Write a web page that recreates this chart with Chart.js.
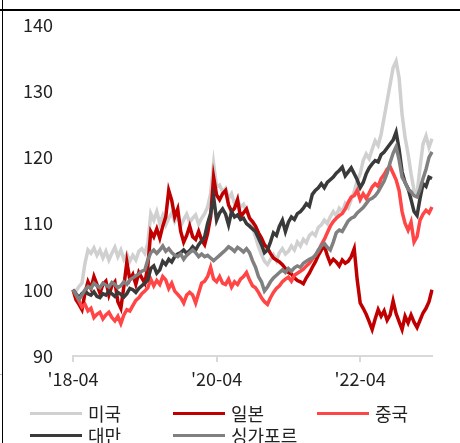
<!DOCTYPE html>
<html><head><meta charset="utf-8">
<script src="https://cdn.jsdelivr.net/npm/chart.js@4"></script>
<style>
html,body{margin:0;padding:0;background:#fff;}
#wrap{position:relative;width:460px;height:443px;overflow:hidden;font-family:'Noto Sans CJK KR','Noto Sans',sans-serif;}
#c{position:absolute;left:0;top:0;}
.frameTop{position:absolute;left:0;top:9px;width:460px;height:2px;background:#000;}
.frameLeft{position:absolute;left:2px;top:0;width:1px;height:443px;background:#000;}
.frameMark{position:absolute;left:0;top:374px;width:2px;height:1px;background:#bbb;}
.item{position:absolute;height:24px;display:flex;align-items:center;font-size:18px;color:#222;white-space:nowrap;}
.sw{width:52px;height:3px;margin-right:6px;}
</style></head>
<body>
<div id="wrap">
<canvas id="c" width="460" height="443"></canvas>
<div class="frameTop"></div><div class="frameLeft"></div><div class="frameMark"></div>
<div id="legend"></div>
</div>
<script>
// categories: semi-monthly dates from 2018-04 to 2023-04
const categories = [];
for (let k = 0; k <= 120; k++) {
  const m = Math.floor(k / 2);
  const yr = 2018 + Math.floor((3 + m) / 12);
  const mo = (3 + m) % 12 + 1;
  categories.push(yr + '-' + String(mo).padStart(2, '0') + '-' + (k % 2 ? '16' : '01'));
}
const tickDates = ['2018-04-01', '2020-04-01', '2022-04-01'];
const tickLabels = ["'18-04", "'20-04", "'22-04"];
const yTicks = [90, 100, 110, 120, 130, 140];
const seriesNames = ['미국', '일본', '중국', '대만', '싱가포르'];
const seriesColors = ['#d0d0d0', '#c00000', '#ff4545', '#3a3a3a', '#808080'];

const usa = [
100,99.8,100.5,101,104,106,105.5,106.3,105.2,106,
104.8,105.8,104.5,105.5,106.4,105,106,104.6,105.4,104.3,
105.2,104.5,105.8,106.2,105.5,107,111.5,110.5,111.8,110,
111.2,109.8,110.8,111.6,110.3,111.2,109.6,110.6,111.4,110.2,
110.8,111.3,109.9,110.8,111.5,112.5,114.5,119,115.5,115.8,
114.8,115.3,113.8,114.5,113,113.6,112.5,112.9,111.8,111,
109.5,108,106.5,105.3,104.3,103.8,104.6,105.3,104.4,105.6,
106.2,105.4,105.8,106.6,106,107.2,106.6,107.6,107.1,108.2,
108.6,108.2,109.4,109.8,110.5,110,111,111.8,111.2,112.3,
111.8,113,112.4,113.6,114.8,116.5,117.5,119.5,120.5,119.8,
121.2,122.5,121.8,123.5,126,128.5,131,133.5,134.5,132,
126.5,123,120.5,117.5,115,114.5,118.5,122,123.2,121.5,
122.8];
const japan = [
100,98.5,97.8,97,99.5,101.2,100.2,102,100.8,99.5,
100.8,101.3,99.2,100.6,101.2,98.2,97.2,100.5,104.2,101.5,
102.3,100.8,102.6,101.8,101,103.5,108.8,108,109.2,107.8,
109.6,111,115,113.5,111,112.2,108.8,107.2,108.2,109.6,
108,107.6,108.8,107.5,106.8,108.5,111,117,114.3,113.6,
114.5,115,112.8,111.8,112.3,113.6,111,111.6,112.2,110.8,
110.3,109.6,108.6,107.8,106.8,106.3,105.5,104.8,104.5,104.2,
103.8,103.2,102.6,102.4,101.8,101.4,101.2,100.9,101.8,102.5,
103.4,104.2,105.2,106,106.6,105.2,104,104.6,104.2,103.6,
104.5,104,104.3,105,106.2,101.5,98,97.2,96.3,95.2,
94,95.6,97,96,96.8,95.4,96.2,98.3,96.4,95.2,
94,96,95,96.2,95.1,94.3,95.4,96.5,97.2,98.2,
100];
const china = [
100,99.2,98.3,97.4,97.8,96.8,97.2,95.8,96.3,96.6,
95.6,96.2,96.6,95.8,95.3,96,94.9,96.2,97,96.8,
97.6,98.4,98.8,99.4,99.8,100.3,101.6,100.6,101.4,100.8,
102,101.5,100.2,101,99.8,99.3,98.8,98,99.2,99.6,
99.2,98,99.5,101,101.3,102,103.4,101.6,101.2,102,
101,100.8,101.6,100.4,101.2,100.8,101.6,102,102.6,101.5,
100.6,100.3,99.6,98.8,98.2,97.8,98.8,99.6,100.2,100.6,
101.2,101.6,101.9,101.3,102.2,102.5,102.8,103.1,103.6,104,
104.6,105.2,105.8,106.8,107.6,108.6,109.6,110.3,110.8,111.2,
111.5,112.2,113.2,114,114.2,115,113.6,114.5,113.8,114.6,
115.5,116,115.6,116.8,117.4,118.2,118.6,117.6,116.6,115,
111.8,110,109,110.2,107.2,108,110.5,111.4,112,111.6,
112.5];
const taiwan = [
100,99.4,98.8,99.4,99.8,99.4,99.2,99.7,99,98.8,
99.4,99.2,99.8,99.4,99,99.6,99.3,98.9,99.4,100.2,
100,99.6,100.2,100.6,101,101.5,103.2,103.6,102.5,103,
104.3,103.8,104.6,104.2,105,105.4,105.6,106,105.5,105.9,
106.5,106,106.8,107.4,108,110,111.5,114,110.5,111.6,
112.2,111.4,109.8,111.8,111,111.3,110.6,110.8,110,109.6,
109.2,108.8,107.8,106.8,105.6,106,107.2,108.6,108.2,109.6,
110.5,108.8,110.2,111,110.6,111.5,111.8,112.3,113,112.6,
114.4,115,115.4,116,115.4,116.2,116.6,117,117.6,118,
118.5,117.2,117.8,118.4,117.5,116.6,115.4,116.2,117.5,118.4,
119,119.5,119.3,120.4,120.8,121.4,122,122.6,123.8,121.2,
117.8,116.2,115.3,113.6,111.8,111.2,113.8,116,115.6,117,
116.8];
const singapore = [
100,99.3,98.5,99.2,100,100.5,100.2,101,100.6,100.3,
101,100.7,100.4,101.1,100.8,100.3,100.6,101.2,100.8,101.5,
101.8,102.1,102.4,102.8,103,104.5,105.6,106,105.5,106,
106.6,105.8,106.2,105.6,105.2,105,105.4,104.6,105.2,105.6,
106,105.6,105,105.4,105,105.2,104.8,104.4,104.8,105.2,
105.6,106,106.5,106.2,105.8,106.4,106.1,105.7,106.2,105.6,
104.4,103.4,102,101.2,99.8,100.4,101.2,101.8,102.2,102.6,
103,102.6,103.2,102.8,103.3,103.6,103.4,104,104.3,104.6,
104.8,105.2,106,106.6,107,106.4,106,107.2,108.6,109,
108.8,109.6,110.4,110.8,111,111.6,112,112.4,113,113.6,
113.8,114.2,114.8,115.6,116.4,117.6,119.2,120.6,121.6,119.6,
117,116.2,115.2,114.8,114.2,114,115.2,116.8,118.2,120,
120.8];
const seriesData = [usa, japan, china, taiwan, singapore];

const FONT = "'Noto Sans CJK KR','Noto Sans',sans-serif";

// HTML legend (3 columns grid)
const legendEl = document.getElementById('legend');
const legendCols = [30, 173, 317];
const legendRows = [401, 423];
seriesNames.forEach((n, i) => {
  const d = document.createElement('div');
  d.className = 'item';
  d.style.left = legendCols[i % 3] + 'px';
  d.style.top = legendRows[Math.floor(i / 3)] + 'px';
  const sw = document.createElement('span');
  sw.className = 'sw';
  sw.style.background = seriesColors[i];
  const t = document.createElement('span');
  t.textContent = n;
  d.appendChild(sw); d.appendChild(t);
  legendEl.appendChild(d);
});

new Chart(document.getElementById('c'), {
  type: 'line',
  data: {
    labels: categories,
    datasets: seriesNames.map((n, i) => ({
      label: n,
      data: seriesData[i],
      borderColor: seriesColors[i],
      backgroundColor: seriesColors[i],
      borderWidth: 3.5,
      pointRadius: 0,
      tension: 0,
      order: 5 - i
    }))
  },
  options: {
    responsive: false,
    animation: false,
    layout: { padding: { left: 0, right: 28, top: 0, bottom: 0 } },
    plugins: { legend: { display: false }, tooltip: { enabled: false } },
    scales: {
      x: {
        type: 'category',
        offset: false,
        afterBuildTicks: (s) => { s.ticks = s.ticks.filter(t => tickDates.includes(categories[t.value])); },
        afterFit: (s) => { s.height = 87; },
        grid: { display: true, drawOnChartArea: false, drawTicks: true, tickLength: 6, color: '#d9d9d9', lineWidth: 2 },
        border: { display: true, color: '#d9d9d9', width: 2 },
        ticks: {
          autoSkip: false, maxRotation: 0, padding: 6, color: '#222',
          font: { size: 18, family: FONT },
          callback: function (v) { const k = tickDates.indexOf(categories[v]); return k >= 0 ? tickLabels[k] : null; }
        }
      },
      y: {
        min: yTicks[0], max: yTicks[yTicks.length - 1],
        afterFit: (s) => { s.width = 73; },
        afterBuildTicks: (s) => { s.ticks = yTicks.map(v => ({ value: v })); },
        grid: { display: true, drawOnChartArea: false, drawTicks: true, tickLength: 6, color: 'rgba(0,0,0,0)' },
        border: { display: false },
        ticks: { padding: 14, color: '#222', font: { size: 18, family: FONT } }
      }
    }
  }
});
</script>
</body></html>
